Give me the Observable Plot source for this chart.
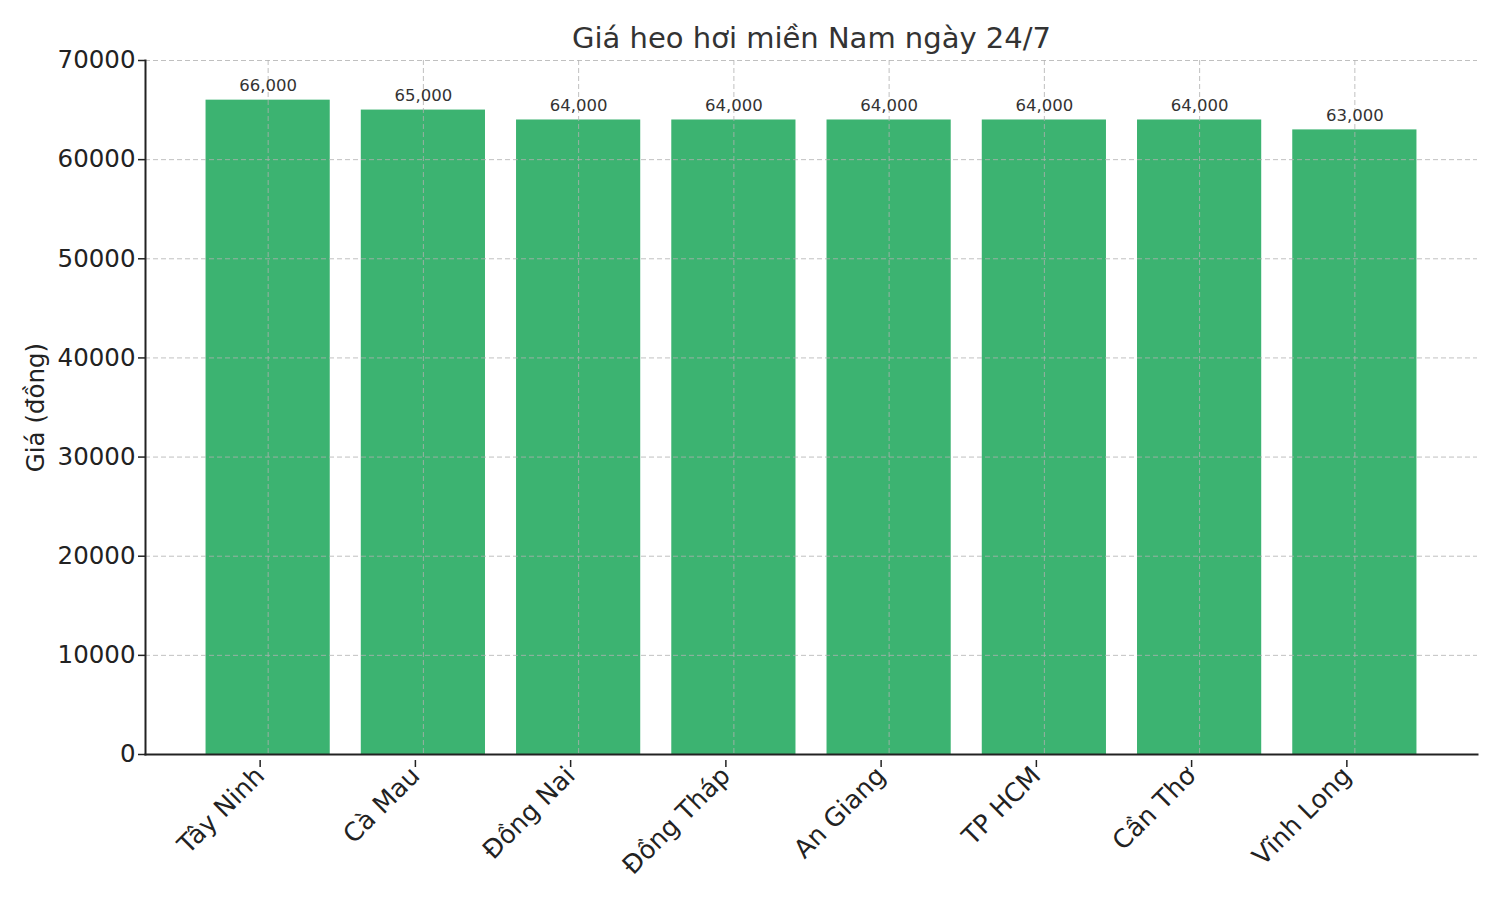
<!DOCTYPE html>
<html>
<head>
<meta charset="utf-8">
<script src="https://cdn.jsdelivr.net/npm/d3@7"></script>
<script src="https://cdn.jsdelivr.net/npm/@observablehq/plot@0.6"></script>
<style>
  html, body { margin: 0; padding: 0; background: #fff; }
  #chart { width: 1500px; height: 900px; }
  svg { font-family: "DejaVu Sans", sans-serif; }
</style>
</head>
<body>
<div id="chart"></div>
<script>
const provinces = ["Tây Ninh", "Cà Mau", "Đồng Nai", "Đồng Tháp", "An Giang", "TP HCM", "Cần Thơ", "Vĩnh Long"];
const prices = [66000, 65000, 64000, 64000, 64000, 64000, 64000, 63000];
const yTicks = [0, 10000, 20000, 30000, 40000, 50000, 60000, 70000];
const titleText = "Giá heo hơi miền Nam ngày 24/7";
const yLabel = "Giá (đồng)";

const data = provinces.map((p, i) => ({province: p, price: prices[i]}));
const fmt = d3.format(",");

const chart = Plot.plot({
  width: 1500,
  height: 900,
  marginLeft: 145,
  marginRight: 23,
  marginTop: 60,
  marginBottom: 146,
  style: {fontFamily: "DejaVu Sans, sans-serif", background: "#fff"},
  x: {domain: provinces, paddingInner: 0.2, paddingOuter: 0.39, round: false, label: null},
  y: {domain: [0, 70000], label: null},
  marks: [
    Plot.barY(data, {x: "province", y: "price", fill: "#3cb371"}),
    Plot.gridY(yTicks, {stroke: "#b0b0b0", strokeOpacity: 0.8, strokeDasharray: "5,3", strokeWidth: 1}),
    Plot.gridX(provinces, {stroke: "#b0b0b0", strokeOpacity: 0.8, strokeDasharray: "5,3", strokeWidth: 1}),
    Plot.text(data, {x: "province", y: "price", text: d => fmt(d.price), lineAnchor: "bottom", dy: -9, fontSize: 16.5, fill: "#333"}),
    Plot.axisY(yTicks, {tickSize: 7, tickPadding: 3, fontSize: 24.5, fill: "#222", stroke: "#222", strokeWidth: 1.5, label: null, tickFormat: d => String(d)}),
    Plot.axisX({tickSize: 7, tickPadding: 4, tickRotate: -45, fontSize: 25.5, fill: "#222", stroke: "#222", strokeWidth: 1.5, label: null, dx: -8, dy: 6}),
    Plot.frame({anchor: "left", stroke: "#222", strokeWidth: 2}),
    Plot.frame({anchor: "bottom", stroke: "#222", strokeWidth: 2}),
    Plot.text([titleText], {frameAnchor: "top", lineAnchor: "middle", dy: -22, fontSize: 29, fill: "#333"}),
    Plot.text([yLabel], {frameAnchor: "left", textAnchor: "middle", lineAnchor: "middle", dx: -109, rotate: -90, fontSize: 24.5, fill: "#222"})
  ]
});
document.getElementById("chart").appendChild(chart);
</script>
</body>
</html>
